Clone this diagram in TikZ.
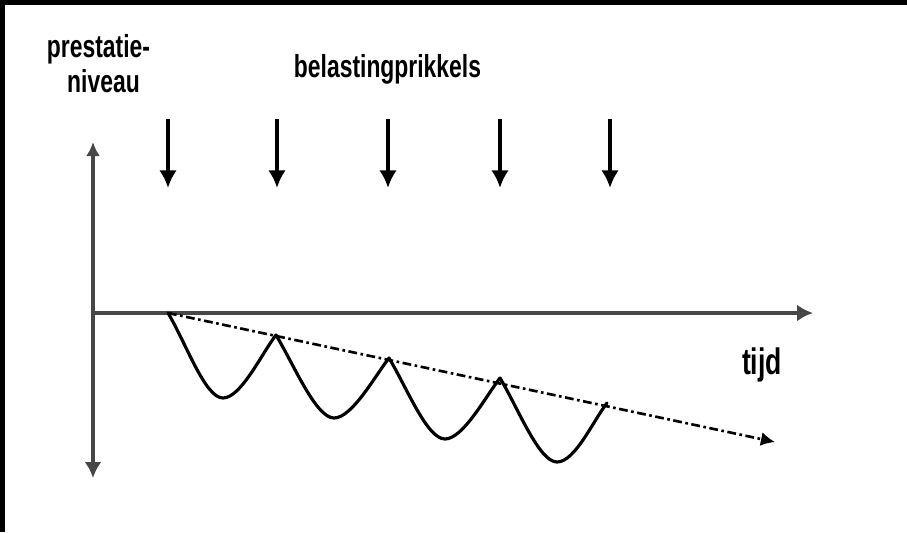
\documentclass[tikz,border=0pt]{standalone}
\usepackage{fontspec}
\setmainfont{Liberation Sans}
\newfontfamily\labelfont[FakeStretch=0.72]{Liberation Sans Bold}
\usepackage{tikz}
\usetikzlibrary{positioning, arrows.meta}

\begin{document}
\begin{tikzpicture}[
  x=0.02cm, y=-0.02cm,
  axis/.style={line width=2.2pt, black!72},
  axistip/.style={-{Latex[length=9pt,width=9.5pt]}},
  prikkel/.style={line width=2.2pt, black, -{Latex[length=10pt,width=10pt]}},
  golf/.style={line width=1.8pt, line join=round, line cap=round},
  trend/.style={line width=1.5pt, dash pattern=on 5pt off 2pt on 1.5pt off 2pt,
    -{Latex[length=8pt,width=8pt]}},
  lbl/.style={inner sep=0pt, font=\labelfont\fontsize{18.1}{19.8}\selectfont},
]
  % canvas and black scan edge
  \useasboundingbox (0,0) rectangle (907,532);
  \fill[white] (0,0) rectangle (907,532);
  \fill[black] (0,0) rectangle (907,5);
  \fill[black] (0,0) rectangle (5,532);

  % axes
  \coordinate (O)    at (93,313);
  \coordinate (ytop) at (93,142);
  \coordinate (ybot) at (93,478);
  \coordinate (xend) at (813,313);
  \draw[axis, {Latex[length=8pt,width=8pt]}-{Latex[length=9pt,width=9.5pt]}] (ytop) -- (ybot);
  \draw[axis, axistip] (O) -- (xend);

  % load stimuli
  \foreach \i/\x in {1/168, 2/277, 3/388, 4/500, 5/610} {
    \coordinate (s\i) at (\x,119);
    \coordinate (t\i) at (\x,188);
    \draw[prikkel] (s\i) -- (t\i);
  }

  % peaks and dips of the performance curve
  \coordinate (p0) at (168,313);
  \coordinate (m1) at (223,398);
  \coordinate (p1) at (276,335);
  \coordinate (m2) at (334,418);
  \coordinate (p2) at (389,358);
  \coordinate (m3) at (445,439);
  \coordinate (p3) at (500,378);
  \coordinate (m4) at (557,462);
  \coordinate (p4) at (607,403);

  % trend line
  \coordinate (trendend) at (775,442);
  \draw[trend] (p0) -- (trendend);

  \draw[golf] (p0)
    .. controls +(18,30) and +(-18,0) .. (m1)
    .. controls +(18,0) and +(-14,18) .. (p1)
    .. controls +(18,30) and +(-18,0) .. (m2)
    .. controls +(18,0) and +(-14,18) .. (p2)
    .. controls +(18,30) and +(-18,0) .. (m3)
    .. controls +(18,0) and +(-14,18) .. (p3)
    .. controls +(18,30) and +(-18,0) .. (m4)
    .. controls +(18,0) and +(-14,18) .. (p4);

  % labels
  \node[lbl, anchor=base] (prestatie) at (98.5,57) {prestatie-};
  \node[lbl, anchor=base] (niveau) at (103.5,92) {niveau};
  \node[lbl, anchor=base] (prikkels) at (387.5,77) {belastingprikkels};
  \node[lbl, anchor=base, font=\labelfont\fontsize{21}{23}\selectfont] (tijd) at (762,374) {tijd};
\end{tikzpicture}
\end{document}
